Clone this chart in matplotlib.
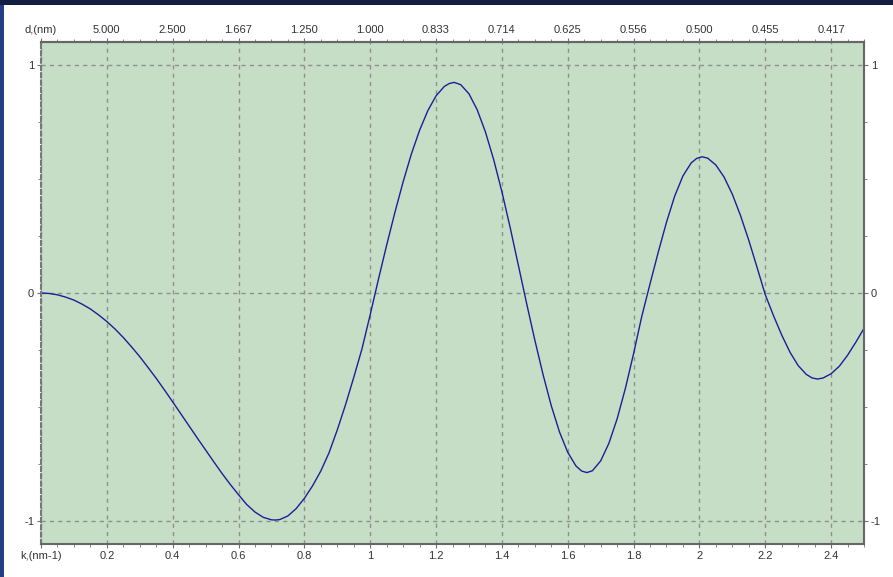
import numpy as np
import matplotlib
matplotlib.use("Agg")
import matplotlib.pyplot as plt
from matplotlib.patches import Rectangle

# k (nm^-1) and curve value, every 0.025 plus the extrema
k = [0.0, 0.025, 0.05, 0.075, 0.1, 0.125, 0.15, 0.175, 0.2, 0.225, 0.25, 0.275,
     0.3, 0.325, 0.35, 0.375, 0.4, 0.425, 0.45, 0.475, 0.5, 0.525, 0.55, 0.575,
     0.6, 0.625, 0.65, 0.675, 0.7, 0.712, 0.725, 0.75, 0.775, 0.8, 0.825, 0.85,
     0.875, 0.9, 0.925, 0.95, 0.975, 1.0, 1.025, 1.05, 1.075, 1.1, 1.125, 1.15,
     1.175, 1.2, 1.225, 1.24, 1.255, 1.275, 1.3, 1.325, 1.35, 1.375, 1.4, 1.425,
     1.45, 1.475, 1.5, 1.525, 1.55, 1.575, 1.6, 1.625, 1.642, 1.658, 1.675, 1.7,
     1.725, 1.75, 1.775, 1.8, 1.825, 1.85, 1.875, 1.9, 1.925, 1.95, 1.975, 1.992,
     2.008, 2.025, 2.05, 2.075, 2.1, 2.125, 2.15, 2.175, 2.2, 2.225, 2.25, 2.275,
     2.3, 2.325, 2.342, 2.358, 2.375, 2.4, 2.425, 2.45, 2.475, 2.5]
val = [0.0, -0.002, -0.008, -0.018, -0.031, -0.049, -0.07, -0.096, -0.125,
       -0.158, -0.195, -0.236, -0.279, -0.326, -0.374, -0.425, -0.477, -0.53,
       -0.583, -0.636, -0.688, -0.74, -0.791, -0.839, -0.884, -0.927, -0.96,
       -0.983, -0.994, -0.995, -0.993, -0.977, -0.945, -0.9, -0.845, -0.78, -0.7,
       -0.6, -0.49, -0.37, -0.245, -0.095, 0.06, 0.21, 0.353, 0.487, 0.609, 0.713,
       0.799, 0.864, 0.905, 0.918, 0.923, 0.913, 0.873, 0.803, 0.706, 0.585,
       0.444, 0.288, 0.122, -0.045, -0.206, -0.357, -0.494, -0.609, -0.698,
       -0.758, -0.780, -0.787, -0.779, -0.736, -0.659, -0.552, -0.419, -0.266,
       -0.102, 0.04, 0.179, 0.31, 0.425, 0.513, 0.57, 0.59, 0.597, 0.591, 0.561,
       0.508, 0.433, 0.339, 0.231, 0.113, -0.007, -0.099, -0.184, -0.259, -0.318,
       -0.357, -0.372, -0.377, -0.373, -0.354, -0.321, -0.273, -0.216, -0.155]

k_ticks = [0, 0.2, 0.4, 0.6, 0.8, 1, 1.2, 1.4, 1.6, 1.8, 2, 2.2, 2.4]
k_labels = ["k,(nm-1)", "0.2", "0.4", "0.6", "0.8", "1", "1.2", "1.4", "1.6",
            "1.8", "2", "2.2", "2.4"]
d_labels = ["d,(nm)", "5.000", "2.500", "1.667", "1.250", "1.000", "0.833",
            "0.714", "0.625", "0.556", "0.500", "0.455", "0.417"]
y_ticks = [-1, 0, 1]

plt.rcParams['font.family'] = ['Liberation Sans', 'DejaVu Sans']

fig = plt.figure(figsize=(8.93, 5.77), dpi=100, facecolor='#131f40')
# white panel behind the chart
fig.patches.append(Rectangle((4 / 893, 0), 1, 572 / 577, transform=fig.transFigure,
                             facecolor='white', edgecolor='none', zorder=-2))
# blue strip at left edge
fig.patches.append(Rectangle((0, 0), 4 / 893, 572 / 577, transform=fig.transFigure,
                             facecolor='#223f86', edgecolor='none', zorder=-2))

ax = fig.add_axes([41 / 893, 33 / 577, 823 / 893, 502 / 577])
ax.set_facecolor('#c6dec6')
ax.plot(k, val, color='#1c1f96', lw=1.0)

ax.set_xlim(0, 2.5)
ax.set_ylim(-1.1, 1.1)
ax.set_xticks(k_ticks, k_labels)
ax.set_xticks(np.arange(0, 2.51, 0.05), minor=True)
ax.set_yticks(y_ticks, [str(t) for t in y_ticks])
ax.set_yticks(np.arange(-1, 1.01, 0.25), minor=True)

ax.grid(True, which='major', color='#8f8f8f', linestyle=(0, (3, 3)), lw=1.0)
ax.tick_params(which='both', direction='out', colors='#707070', labelcolor='#333333',
               labelsize=8, right=True, labelright=True)
ax.tick_params(which='major', length=3, pad=2)
ax.tick_params(which='minor', length=2)

top = ax.secondary_xaxis('top')
top.set_xticks(k_ticks, d_labels)
top.set_xticks(np.arange(0, 2.51, 0.05), minor=True)
top.tick_params(which='both', direction='out', colors='#707070', labelcolor='#333333',
                labelsize=8, pad=2)
top.tick_params(which='major', length=3)
top.tick_params(which='minor', length=2)
top.spines['top'].set_color('#666666')
top.spines['top'].set_linewidth(1.5)

for side in ['top', 'bottom', 'right']:
    ax.spines[side].set_color('#666666')
    ax.spines[side].set_linewidth(1.5)
ax.spines['left'].set_color('#777777')
ax.spines['left'].set_linewidth(1.5)
ax.spines['left'].set_linestyle((0, (2, 1.5)))

fig.savefig('out.png', dpi=100, facecolor=fig.get_facecolor())
